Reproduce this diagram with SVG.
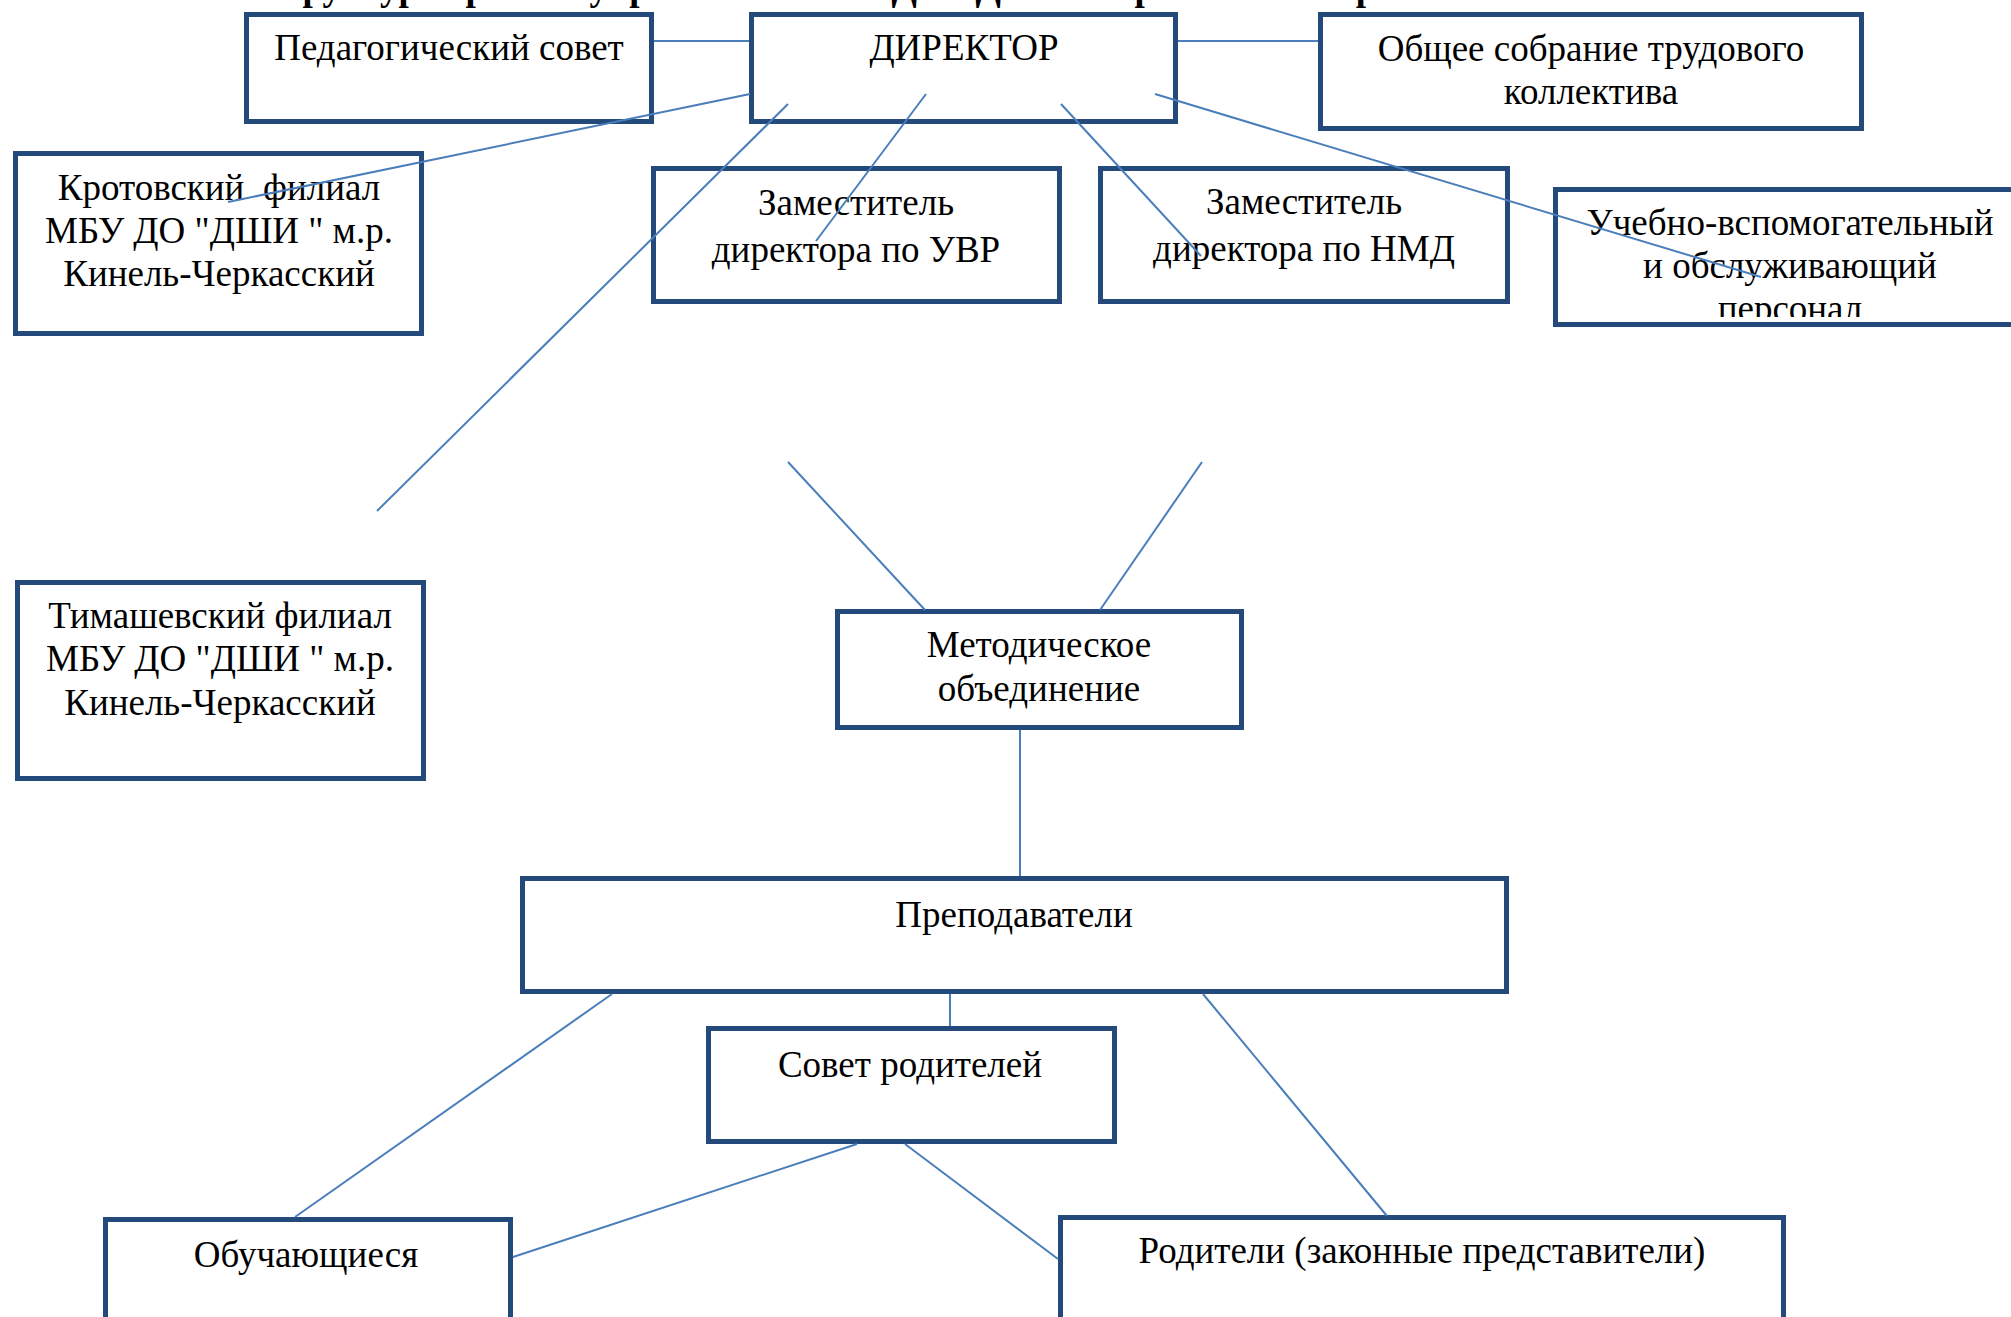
<svg xmlns="http://www.w3.org/2000/svg" width="2011" height="1317" viewBox="0 0 2011 1317">
<style>
.box{fill:#fff;stroke:#244A7C;stroke-width:5}
.t{font-family:"Liberation Serif","Times New Roman",serif;font-size:37px;fill:#000;text-anchor:middle}
.title{font-family:"Liberation Serif","Times New Roman",serif;font-size:37px;font-weight:bold;fill:#000;text-anchor:middle}
.c line{stroke:#4A7EBB;stroke-width:2;fill:none}
</style>
<defs>
<clipPath id="clipUch"><rect x="1558" y="192" width="460" height="125"/></clipPath>
</defs>
<rect width="2011" height="1317" fill="#fff"/>
<text class="title" x="885" y="0">Структура органов управления МБУ ДО "ДШИ" м.р. Кинель-Черкасский</text>
<g id="ped"><rect class="box" x="246.5" y="14.5" width="405" height="107"/><text class="t" x="449" y="60">Педагогический совет</text></g>
<g id="dir"><rect class="box" x="751.5" y="14.5" width="424" height="107"/><text class="t" x="964" y="60">ДИРЕКТОР</text></g>
<g id="obsh"><rect class="box" x="1320.5" y="14.5" width="541" height="114"/><text class="t" x="1591" y="61">Общее собрание трудового</text><text class="t" x="1591" y="104">коллектива</text></g>
<g id="krot"><rect class="box" x="15.5" y="153.5" width="406" height="180"/><text class="t" x="219" y="200" style="white-space:pre">Кротовский  филиал</text><text class="t" x="219" y="243">МБУ ДО "ДШИ " м.р.</text><text class="t" x="219" y="286">Кинель-Черкасский</text></g>
<g id="uvr"><rect class="box" x="653.5" y="168.5" width="406" height="133"/><text class="t" x="856" y="215">Заместитель</text><text class="t" x="856" y="262">директора по УВР</text></g>
<g id="nmd"><rect class="box" x="1100.5" y="168.5" width="407" height="133"/><text class="t" x="1304" y="214">Заместитель</text><text class="t" x="1304" y="261">директора по НМД</text></g>
<g id="uch"><rect class="box" x="1555.5" y="189.5" width="470" height="135"/><g clip-path="url(#clipUch)"><text class="t" x="1790" y="235">Учебно-вспомогательный</text><text class="t" x="1790" y="278">и обслуживающий</text><text class="t" x="1790" y="321">персонал</text></g></g>
<g id="tim"><rect class="box" x="17.5" y="582.5" width="406" height="196"/><text class="t" x="220" y="628">Тимашевский филиал</text><text class="t" x="220" y="671">МБУ ДО "ДШИ " м.р.</text><text class="t" x="220" y="715">Кинель-Черкасский</text></g>
<g id="met"><rect class="box" x="837.5" y="611.5" width="404" height="116"/><text class="t" x="1039" y="657">Методическое</text><text class="t" x="1039" y="701">объединение</text></g>
<g id="prep"><rect class="box" x="522.5" y="878.5" width="984" height="113"/><text class="t" x="1014" y="927">Преподаватели</text></g>
<g id="sovet"><rect class="box" x="708.5" y="1028.5" width="406" height="113"/><text class="t" x="910" y="1077">Совет родителей</text></g>
<g id="obuch"><rect class="box" x="105.5" y="1219.5" width="405" height="120"/><text class="t" x="306" y="1267">Обучающиеся</text></g>
<g id="rod"><rect class="box" x="1060.5" y="1217.5" width="723" height="120"/><text class="t" x="1422" y="1263">Родители (законные представители)</text></g>
<g id="connectors" class="c">
<line x1="654" y1="41" x2="749" y2="41"/>
<line x1="1178" y1="41" x2="1318" y2="41"/>
<line x1="750" y1="94" x2="228" y2="202"/>
<line x1="788" y1="104" x2="377" y2="511"/>
<line x1="926" y1="94" x2="816" y2="241"/>
<line x1="1061" y1="104" x2="1201" y2="256"/>
<line x1="1155" y1="94" x2="1761" y2="277"/>
<line x1="788" y1="462" x2="925" y2="610"/>
<line x1="1202" y1="462" x2="1100" y2="610"/>
<line x1="1020" y1="730" x2="1020" y2="876"/>
<line x1="950" y1="994" x2="950" y2="1026"/>
<line x1="612" y1="994" x2="295" y2="1217"/>
<line x1="857" y1="1144" x2="513" y2="1257"/>
<line x1="905" y1="1144" x2="1058" y2="1259"/>
<line x1="1203" y1="994" x2="1387" y2="1216"/>
</g>
</svg>
